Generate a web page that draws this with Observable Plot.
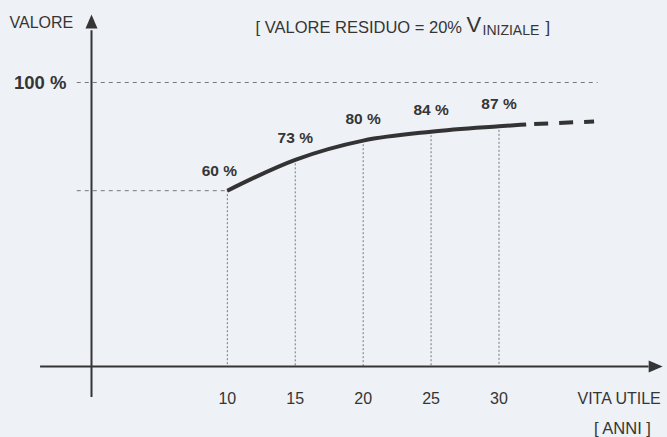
<!DOCTYPE html>
<html>
<head>
<meta charset="utf-8">
<script src="https://cdn.jsdelivr.net/npm/d3@7"></script>
<script src="https://cdn.jsdelivr.net/npm/@observablehq/plot@0.6"></script>
<style>
  html, body { margin: 0; padding: 0; background: #eef1f6; }
  #chart svg { display: block; }
</style>
</head>
<body>
<div id="chart"></div>
<script>
// ---- data ----
const years = [10, 15, 20, 25, 30];                 // VITA UTILE [ANNI]
const percentLabels = [60, 73, 80, 84, 87];          // printed values (%)
const curveHeights = [60, 71.4, 78.5, 81.8, 83.8];   // height of drawn curve at each year
const solidEnd = {year: 32, height: 84.5};           // end of the solid stroke
const dashedEnd = {year: 37, height: 85.6};          // end of the dashed extension
const xTickLabels = ["10", "15", "20", "25", "30"];
const refLevels = [100, 60];                          // dashed reference levels (%)

// axis geometry (in scale units)
const xAxisLevel = -5, xAxisStart = -3.75, xAxisTip = 42.05;
const yAxisBottom = -16.5, yAxisTip = 125.1;

const ink = "#353535";
const font = "'Liberation Sans', Arial, Helvetica, sans-serif";

const curvePts = years.map((y, i) => ({x: y, y: curveHeights[i], label: percentLabels[i] + " %"}));
curvePts.push({x: solidEnd.year, y: solidEnd.height});
const dashPts = [{x: solidEnd.year, y: solidEnd.height}, {x: dashedEnd.year, y: dashedEnd.height}];
const labelPts = curvePts.slice(0, years.length);

const arrowUp = {draw(ctx) { ctx.moveTo(0, 0); ctx.lineTo(6, 14); ctx.lineTo(-6, 14); ctx.closePath(); }};
const arrowRight = {draw(ctx) { ctx.moveTo(0, 0); ctx.lineTo(-14, -6); ctx.lineTo(-14, 6); ctx.closePath(); }};

const chart = Plot.plot({
  width: 667,
  height: 437,
  margin: 0,
  style: {background: "#eef1f6", fontFamily: font, color: ink, overflow: "visible"},
  x: {domain: [0, 30], range: [91, 498.5], axis: null},
  y: {domain: [-5, 100], range: [366, 82], axis: null},
  marks: [
    // reference dashed lines
    Plot.ruleY([refLevels[0]], {x1: -1.05, x2: 37.3, stroke: "#777", strokeWidth: 1, strokeDasharray: "4,4"}),
    Plot.ruleY([refLevels[1]], {x1: -1.05, x2: years[0], stroke: "#777", strokeWidth: 1, strokeDasharray: "4,4"}),
    // vertical dotted drop lines
    Plot.ruleX(labelPts, {x: "x", y1: "y", y2: xAxisLevel, stroke: "#777", strokeWidth: 1, strokeDasharray: "2,2"}),
    // axes
    Plot.ruleY([xAxisLevel], {x1: xAxisStart, x2: xAxisTip - 1, stroke: ink, strokeWidth: 2}),
    Plot.ruleX([0], {y1: yAxisBottom, y2: yAxisTip - 6, stroke: ink, strokeWidth: 2}),
    Plot.dot([{x: 0, y: yAxisTip}], {x: "x", y: "y", symbol: arrowUp, fill: ink, stroke: null, r: 5}),
    Plot.dot([{x: xAxisTip, y: xAxisLevel}], {x: "x", y: "y", symbol: arrowRight, fill: ink, stroke: null, r: 5}),
    // curve
    Plot.line(curvePts, {x: "x", y: "y", curve: "monotone-x", stroke: "#333", strokeWidth: 4, strokeLinecap: "butt"}),
    Plot.line(dashPts, {x: "x", y: "y", stroke: "#333", strokeWidth: 4, strokeLinecap: "butt", strokeDasharray: "14,11", strokeDashoffset: 17}),
    // percent labels
    Plot.text(labelPts.slice(0, 1), {x: "x", y: "y", text: "label", dy: -20, dx: -8, lineAnchor: "middle",
      fontSize: 15.5, fontWeight: "bold", fill: ink}),
    Plot.text(labelPts.slice(1), {x: "x", y: "y", text: "label", dy: -22, lineAnchor: "middle",
      fontSize: 15.5, fontWeight: "bold", fill: ink}),
    // x tick labels
    Plot.text(years, {x: d => d, text: (d, i) => xTickLabels[i], frameAnchor: "top", dy: 403, lineAnchor: "bottom", fontSize: 16, fill: ink}),
    // y tick label
    Plot.text(["100 %"], {y: refLevels[0], frameAnchor: "left", dx: 66, dy: 0.5, textAnchor: "end", fontSize: 18.5, fontWeight: "bold", fill: ink}),
    // axis titles
    Plot.text(["VALORE"], {frameAnchor: "top-left", dx: 9, dy: 27, lineAnchor: "bottom", textAnchor: "start", fontSize: 16, fill: ink}),
    Plot.text(["VITA UTILE"], {frameAnchor: "top-left", dx: 577, dy: 403, lineAnchor: "bottom", textAnchor: "start", fontSize: 16, fill: ink}),
    Plot.text(["[ ANNI ]"], {frameAnchor: "top-left", dx: 622, dy: 433, lineAnchor: "bottom", textAnchor: "middle", fontSize: 16.5, fill: ink}),
    // note
    Plot.text(["[ VALORE RESIDUO = 20%"], {frameAnchor: "top-left", dx: 255, dy: 32, lineAnchor: "bottom", textAnchor: "start", fontSize: 16.5, fill: ink}),
    Plot.text(["V"], {frameAnchor: "top-left", dx: 466, dy: 31.5, lineAnchor: "bottom", textAnchor: "start", fontSize: 22, fill: ink}),
    Plot.text(["INIZIALE"], {frameAnchor: "top-left", dx: 482, dy: 34, lineAnchor: "bottom", textAnchor: "start", fontSize: 14, fill: ink}),
    Plot.text(["]"], {frameAnchor: "top-left", dx: 545, dy: 32, lineAnchor: "bottom", textAnchor: "start", fontSize: 16.5, fill: ink})
  ]
});
document.getElementById("chart").appendChild(chart);
</script>
</body>
</html>
